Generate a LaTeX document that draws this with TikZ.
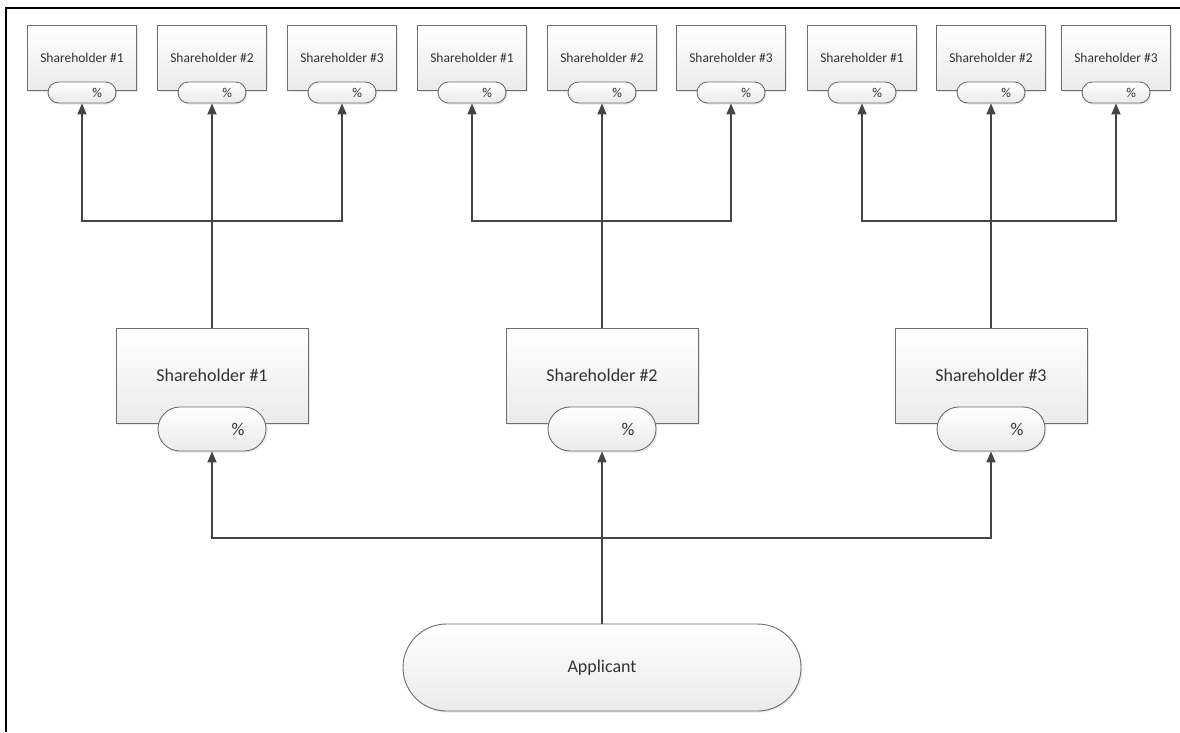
\documentclass[tikz,border=0pt]{standalone}
\usepackage{fontspec}
\setmainfont{Carlito}
\usepackage{tikz}
\usetikzlibrary{arrows.meta,shadows}

\definecolor{wire}{HTML}{454545}
\definecolor{edge}{HTML}{6E6E6E}
\definecolor{ink}{HTML}{333333}

\begin{document}
\begin{tikzpicture}[x=1pt, y=-1pt,
                    every node/.style={text=ink, inner sep=0pt},
                    base/.style={draw=edge, line width=0.9pt, top color=white, bottom color=gray!16,
                                 drop shadow={opacity=0.18, shadow xshift=1.5pt, shadow yshift=-1.5pt}},
                    smallbox/.style={base, minimum width=109pt, minimum height=65pt,
                                     font=\fontsize{13.5}{16}\selectfont},
                    bigbox/.style={base, minimum width=192pt, minimum height=95pt,
                                   font=\fontsize{18}{21}\selectfont},
                    smallpct/.style={base, rounded corners=10.5pt, minimum height=21pt,
                                     text width=40pt, inner xsep=14pt, align=right,
                                     font=\fontsize{13.5}{15}\selectfont},
                    bigpct/.style={base, rounded corners=22pt, minimum height=44pt,
                                   text width=65pt, inner xsep=21.5pt, align=right,
                                   font=\fontsize{18}{21}\selectfont},
                    applicant/.style={base, rounded corners=43.5pt, minimum width=398pt,
                                      minimum height=87pt, font=\fontsize{18}{21}\selectfont},
                    arr/.style={draw=wire, line width=1.6pt, -{Triangle[length=11pt,width=9pt]}},
                    link/.style={draw=wire, line width=1.6pt}]
  \useasboundingbox (0,0) rectangle (1180,732);
  \fill[white] (0,0) rectangle (1180,732);
  \draw[line width=2pt] (1180,8) -- (6,8) -- (6,732);

  \node[smallbox] (t11) at (82,57.5)   {Shareholder \#1};
  \node[smallbox] (t12) at (212,57.5)  {Shareholder \#2};
  \node[smallbox] (t13) at (342,57.5)  {Shareholder \#3};
  \node[smallbox] (t21) at (472,57.5)  {Shareholder \#1};
  \node[smallbox] (t22) at (602,57.5)  {Shareholder \#2};
  \node[smallbox] (t23) at (731,57.5)  {Shareholder \#3};
  \node[smallbox] (t31) at (862,57.5)  {Shareholder \#1};
  \node[smallbox] (t32) at (991,57.5)  {Shareholder \#2};
  \node[smallbox] (t33) at (1116,57.5) {Shareholder \#3};

  \node[smallpct] (p11) at (82,92.5)   {\%};
  \node[smallpct] (p12) at (212,92.5)  {\%};
  \node[smallpct] (p13) at (342,92.5)  {\%};
  \node[smallpct] (p21) at (472,92.5)  {\%};
  \node[smallpct] (p22) at (602,92.5)  {\%};
  \node[smallpct] (p23) at (731,92.5)  {\%};
  \node[smallpct] (p31) at (862,92.5)  {\%};
  \node[smallpct] (p32) at (991,92.5)  {\%};
  \node[smallpct] (p33) at (1116,92.5) {\%};

  \node[bigbox] (m1) at (212,375.5) {Shareholder \#1};
  \node[bigbox] (m2) at (602,375.5) {Shareholder \#2};
  \node[bigbox] (m3) at (991,375.5) {Shareholder \#3};

  \node[bigpct] (q1) at (212,429) {\%};
  \node[bigpct] (q2) at (602,429) {\%};
  \node[bigpct] (q3) at (991,429) {\%};

  \node[applicant] (app) at (602,667.5) {Applicant};

  \coordinate (j1) at (212,221);
  \coordinate (j2) at (602,221);
  \coordinate (j3) at (991,221);
  \coordinate (jb) at (602,538);

  \path[arr] (m1.north) -- (p12.south);
  \path[arr] (j1) -| (p11.south);
  \path[arr] (j1) -| (p13.south);
  \path[arr] (m2.north) -- (p22.south);
  \path[arr] (j2) -| (p21.south);
  \path[arr] (j2) -| (p23.south);
  \path[arr] (m3.north) -- (p32.south);
  \path[arr] (j3) -| (p31.south);
  \path[arr] (j3) -| (p33.south);

  \path[arr] (app.north) -- (q2.south);
  \path[arr] (jb) -| (q1.south);
  \path[arr] (jb) -| (q3.south);
\end{tikzpicture}
\end{document}
